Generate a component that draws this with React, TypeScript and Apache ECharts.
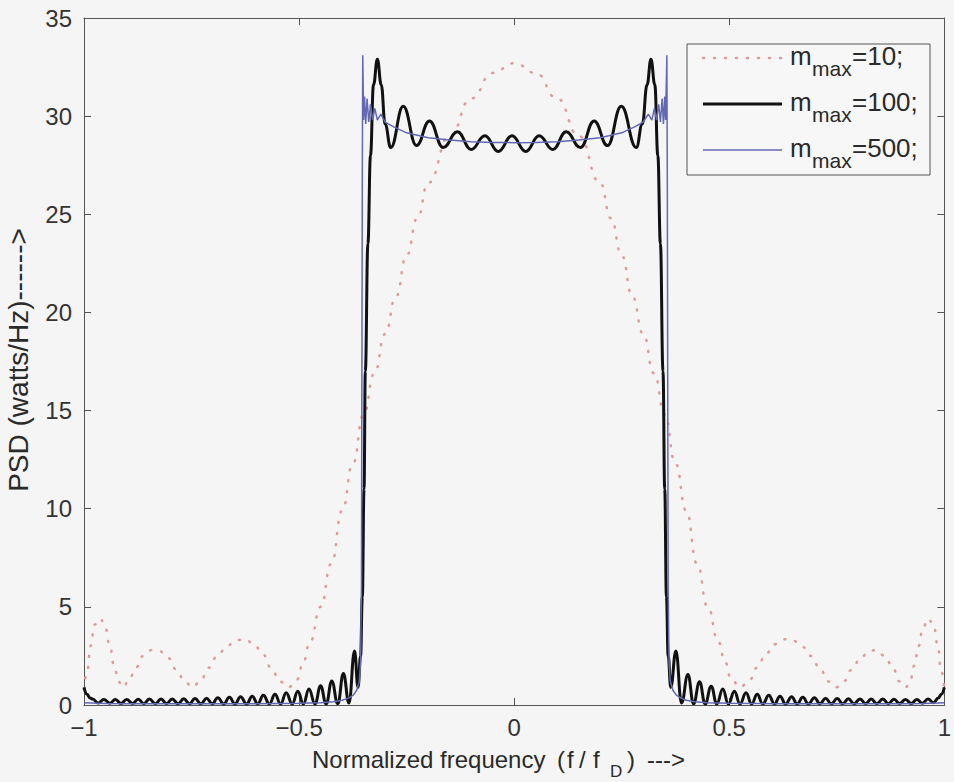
import React, { useEffect, useRef } from "react";
import * as echarts from "echarts";

const FONT = '"Liberation Sans", Arial, Helvetica, sans-serif';

// axes
const X_MIN = -1;
const X_MAX = 1;
const X_STEP = 0.5;
const Y_MIN = 0;
const Y_MAX = 35;
const Y_STEP = 5;

const xAxisTitle = ["Normalized frequency", "(", "f", "/", "f", "D", ")", "--->"];
const yAxisTitle = "PSD (watts/Hz)------>";
const legendValues = ["=10;", "=100;", "=500;"];
const seriesNames = ["m_max=10;", "m_max=100;", "m_max=500;"];

// m_max = 10 (dotted)
const m10: [number, number][] = [
  [-1.0, 0.8], [-0.992, 1.8], [-0.985, 3.0], [-0.975, 4.1], [-0.962, 4.4], [-0.95, 3.9],
  [-0.94, 3.0], [-0.93, 2.0], [-0.92, 1.2], [-0.91, 0.9], [-0.896, 1.2], [-0.88, 1.9],
  [-0.862, 2.5], [-0.842, 2.8], [-0.825, 2.75], [-0.805, 2.4], [-0.785, 1.8], [-0.766, 1.2],
  [-0.748, 0.9], [-0.73, 1.2], [-0.71, 1.9], [-0.69, 2.5], [-0.668, 3.0], [-0.647, 3.3],
  [-0.626, 3.35], [-0.605, 3.1], [-0.585, 2.6], [-0.565, 1.9], [-0.545, 1.2], [-0.525, 0.9],
  [-0.505, 1.3], [-0.49, 2.2], [-0.475, 3.2], [-0.45, 5.0], [-0.425, 7.2], [-0.4, 9.9],
  [-0.375, 12.3], [-0.35, 14.8], [-0.325, 16.9], [-0.3, 18.9], [-0.275, 20.8], [-0.25, 22.9],
  [-0.225, 24.8], [-0.2, 26.6], [-0.15, 29.0], [-0.1, 30.9], [-0.05, 32.2], [0.0, 32.7],
  [0.05, 32.2], [0.1, 30.9], [0.15, 29.0], [0.2, 26.6], [0.225, 24.8], [0.25, 22.9],
  [0.275, 20.8], [0.3, 18.9], [0.325, 16.9], [0.35, 14.8], [0.375, 12.3], [0.4, 9.9],
  [0.425, 7.2], [0.45, 5.0], [0.475, 3.2], [0.49, 2.2], [0.505, 1.3], [0.525, 0.9],
  [0.545, 1.2], [0.565, 1.9], [0.585, 2.6], [0.605, 3.1], [0.626, 3.35], [0.647, 3.3],
  [0.668, 3.0], [0.69, 2.5], [0.71, 1.9], [0.73, 1.2], [0.748, 0.9], [0.766, 1.2],
  [0.785, 1.8], [0.805, 2.4], [0.825, 2.75], [0.842, 2.8], [0.862, 2.5], [0.88, 1.9],
  [0.896, 1.2], [0.91, 0.9], [0.92, 1.2], [0.93, 2.0], [0.94, 3.0], [0.95, 3.9],
  [0.962, 4.4], [0.975, 4.1], [0.985, 3.0], [0.992, 1.8], [1.0, 0.8],
];

// m_max = 100 (thick black), peaks and troughs
const m100Left: [number, number][] = [
  [-1.0, 0.9], [-0.993, 0.55], [-0.986, 0.36], [-0.98, 0.3], [-0.967, 0.1], [-0.954, 0.28],
  [-0.94, 0.09], [-0.927, 0.28], [-0.914, 0.08], [-0.901, 0.28], [-0.887, 0.08], [-0.874, 0.29],
  [-0.861, 0.07], [-0.848, 0.3], [-0.834, 0.07], [-0.821, 0.3], [-0.808, 0.07], [-0.795, 0.31],
  [-0.781, 0.06], [-0.768, 0.32], [-0.755, 0.06], [-0.742, 0.33], [-0.728, 0.06], [-0.715, 0.35],
  [-0.702, 0.06], [-0.689, 0.37], [-0.675, 0.05], [-0.662, 0.39], [-0.649, 0.05], [-0.636, 0.42],
  [-0.622, 0.05], [-0.609, 0.45], [-0.596, 0.05], [-0.583, 0.5], [-0.569, 0.05], [-0.556, 0.55],
  [-0.543, 0.05], [-0.53, 0.62], [-0.516, 0.05], [-0.503, 0.7], [-0.49, 0.05], [-0.477, 0.82],
  [-0.463, 0.05], [-0.45, 0.98], [-0.437, 0.05], [-0.424, 1.22], [-0.41, 0.06], [-0.397, 1.6],
  [-0.384, 0.1], [-0.371, 2.75], [-0.363, 0.9],
];
const m100Band: [number, number][] = [
  [-0.357, 2.5], [-0.353, 5.5], [-0.349, 11], [-0.346, 17], [-0.34, 23.5], [-0.334, 28],
  [-0.327, 31.6], [-0.318, 32.9], [-0.309, 31.6], [-0.3, 29.6], [-0.287, 28.4], [-0.258, 30.5],
  [-0.227, 28.5], [-0.197, 29.75], [-0.165, 28.4], [-0.132, 29.2], [-0.1, 28.3], [-0.068, 29.0],
  [-0.037, 28.2], [-0.005, 29.0], [0.027, 28.2], [0.058, 29.0], [0.09, 28.3], [0.121, 29.2],
  [0.154, 28.4], [0.186, 29.75], [0.217, 28.5], [0.249, 30.5], [0.284, 28.4], [0.298, 29.6],
  [0.309, 31.6], [0.318, 32.9], [0.327, 31.6], [0.334, 28], [0.34, 23.5], [0.346, 17],
  [0.35, 11], [0.354, 5.5], [0.358, 2.5],
];
const m100Right: [number, number][] = [
  [0.364, 0.9], [0.376, 2.75], [0.389, 0.1], [0.404, 1.55], [0.417, 0.06], [0.431, 1.18],
  [0.444, 0.05], [0.458, 0.96], [0.471, 0.05], [0.485, 0.82], [0.498, 0.05], [0.512, 0.7],
  [0.525, 0.05], [0.539, 0.62], [0.552, 0.05], [0.565, 0.55], [0.578, 0.05], [0.592, 0.5],
  [0.605, 0.05], [0.618, 0.45], [0.631, 0.05], [0.645, 0.42], [0.658, 0.05], [0.671, 0.39],
  [0.684, 0.05], [0.698, 0.37], [0.711, 0.06], [0.724, 0.35], [0.737, 0.06], [0.751, 0.33],
  [0.764, 0.06], [0.777, 0.32], [0.79, 0.06], [0.804, 0.31], [0.817, 0.07], [0.83, 0.3],
  [0.843, 0.07], [0.857, 0.3], [0.87, 0.07], [0.883, 0.29], [0.896, 0.08], [0.91, 0.28],
  [0.923, 0.08], [0.936, 0.28], [0.949, 0.09], [0.962, 0.3], [0.975, 0.12], [0.986, 0.36],
  [0.993, 0.55], [1.0, 0.9],
];

// m_max = 500 (thin blue)
const m500Left: [number, number][] = [
  [-1.0, 0.12], [-0.95, 0.08], [-0.9, 0.07], [-0.8, 0.06], [-0.7, 0.06], [-0.6, 0.07],
  [-0.5, 0.09], [-0.45, 0.12], [-0.42, 0.17], [-0.4, 0.24], [-0.385, 0.35], [-0.374, 0.5],
  [-0.366, 0.75], [-0.36, 1.2], [-0.357, 2.2], [-0.355, 6], [-0.354, 16], [-0.353, 27],
];
const m500Band: [number, number][] = [
  [-0.352, 33.1], [-0.35, 29.8], [-0.348, 31.0], [-0.345, 29.6], [-0.342, 30.9], [-0.338, 29.7],
  [-0.334, 30.6], [-0.329, 29.8], [-0.324, 30.4], [-0.318, 29.8], [-0.31, 30.1], [-0.3, 29.7],
  [-0.28, 29.45], [-0.25, 29.15], [-0.2, 28.9], [-0.15, 28.78], [-0.1, 28.7], [-0.05, 28.66],
  [0.0, 28.65], [0.05, 28.66], [0.1, 28.7], [0.15, 28.78], [0.2, 28.9], [0.25, 29.15],
  [0.28, 29.45], [0.3, 29.7], [0.312, 30.1], [0.32, 29.8], [0.326, 30.4], [0.331, 29.8],
  [0.336, 30.6], [0.34, 29.7], [0.344, 30.9], [0.347, 29.6], [0.35, 31.0], [0.352, 29.8],
  [0.355, 33.1],
];
const m500Right: [number, number][] = [
  [0.356, 27], [0.357, 16], [0.358, 6], [0.36, 2.2], [0.363, 1.2], [0.369, 0.75],
  [0.377, 0.5], [0.388, 0.35], [0.4, 0.24], [0.42, 0.17], [0.45, 0.12], [0.5, 0.09],
  [0.6, 0.07], [0.7, 0.06], [0.8, 0.06], [0.9, 0.07], [0.95, 0.08], [1.0, 0.12],
];

const COLORS = { m10: "#e09a9a", m100: "#111111", m500: "#6268b4", axis: "#555555", text: "#2a2a2a" };

function txt(text: string, x: number, y: number, size: number, extra: any = {}) {
  return {
    type: "text",
    x,
    y,
    silent: true,
    z: 100,
    style: {
      text,
      fontSize: size,
      fontFamily: FONT,
      fill: COLORS.text,
      align: "left",
      verticalAlign: "middle",
      ...extra,
    },
  };
}

export default function App() {
  const ref = useRef<HTMLDivElement>(null);

  useEffect(() => {
    if (!ref.current) return;
    const chart = echarts.init(ref.current, undefined, { renderer: "svg" });

    const axisCommon = {
      type: "value",
      axisLine: { show: true, onZero: false, lineStyle: { color: COLORS.axis, width: 1 } },
      axisTick: { show: true, inside: true, length: 7, lineStyle: { color: COLORS.axis, width: 1 } },
      splitLine: { show: false },
    };

    const m100 = [...m100Left, ...m100Band, ...m100Right];
    const m500 = [...m500Left, ...m500Band, ...m500Right];

    const legendRows = [0, 1, 2];
    const rowBase = [65, 111, 157];
    const legendGraphics: any[] = [
      {
        type: "rect",
        z: 90,
        shape: { x: 687, y: 44, width: 243, height: 131 },
        style: { fill: "#f7f7f7", stroke: COLORS.axis, lineWidth: 1 },
      },
    ];
    legendRows.forEach((i) => {
      const ly = rowBase[i] - 7;
      const lineStyle =
        i === 0
          ? { stroke: COLORS.m10, lineWidth: 2.5, lineDash: [1, 10], lineCap: "round" }
          : i === 1
          ? { stroke: COLORS.m100, lineWidth: 3 }
          : { stroke: COLORS.m500, lineWidth: 1.5 };
      legendGraphics.push({
        type: "line",
        z: 95,
        shape: { x1: 703, y1: ly, x2: 782, y2: ly },
        style: lineStyle,
      });
      legendGraphics.push(txt("m", 790, rowBase[i] - 9, 26));
      legendGraphics.push(txt("max", 812, rowBase[i] + 11 - 7.4, 21));
      legendGraphics.push(txt(legendValues[i], 852, rowBase[i] - 9, 26));
    });

    const xNameY = 759;
    const titleGraphics: any[] = [
      txt(xAxisTitle[0], 312, xNameY, 24),
      txt(xAxisTitle[1], 557, xNameY, 24),
      txt(xAxisTitle[2], 567, xNameY, 24),
      txt(xAxisTitle[3], 579, xNameY, 24),
      txt(xAxisTitle[4], 593, xNameY, 24),
      txt(xAxisTitle[5], 610, 771, 17),
      txt(xAxisTitle[6], 627, xNameY, 24),
      txt(xAxisTitle[7], 647, xNameY, 24),
      {
        ...txt(yAxisTitle, 18, 360, 28, { align: "center" }),
        rotation: Math.PI / 2,
      },
    ];

    chart.setOption({
      animation: false,
      backgroundColor: "#f5f5f5",
      textStyle: { fontFamily: FONT },
      grid: { left: 84, right: 8, top: 18, bottom: 77, containLabel: false },
      xAxis: [
        {
          ...axisCommon,
          position: "bottom",
          min: X_MIN,
          max: X_MAX,
          interval: X_STEP,
          axisLabel: {
            show: true,
            fontSize: 24,
            color: "#333",
            fontFamily: FONT,
            margin: 10,
            formatter: (v: number) => (v < 0 ? "\u2212" + String(-v) : String(v)),
          },
        },
        {
          ...axisCommon,
          position: "top",
          min: X_MIN,
          max: X_MAX,
          interval: X_STEP,
          axisLabel: { show: false },
        },
      ],
      yAxis: [
        {
          ...axisCommon,
          position: "left",
          min: Y_MIN,
          max: Y_MAX,
          interval: Y_STEP,
          axisLabel: { show: true, fontSize: 24, color: "#333", fontFamily: FONT, margin: 12 },
        },
        {
          ...axisCommon,
          position: "right",
          min: Y_MIN,
          max: Y_MAX,
          interval: Y_STEP,
          axisLabel: { show: false },
        },
      ],
      series: [
        {
          name: seriesNames[0],
          type: "line",
          data: m10,
          smooth: 0.5,
          smoothMonotone: "x",
          symbol: "none",
          showSymbol: false,
          lineStyle: { color: COLORS.m10, width: 2.5, type: [1, 10], cap: "round" },
          z: 2,
        },
        {
          name: seriesNames[1],
          type: "line",
          data: m100,
          smooth: 0.45,
          smoothMonotone: "x",
          symbol: "none",
          showSymbol: false,
          lineStyle: { color: COLORS.m100, width: 3 },
          z: 3,
        },
        {
          name: seriesNames[2],
          type: "line",
          data: m500,
          smooth: false,
          symbol: "none",
          showSymbol: false,
          lineStyle: { color: COLORS.m500, width: 1.5 },
          z: 4,
        },
      ],
      graphic: [...legendGraphics, ...titleGraphics],
    });

    return () => chart.dispose();
  }, []);

  return (
    <div
      ref={ref}
      style={{ position: "absolute", left: 0, top: 0, width: 954, height: 782, background: "#f5f5f5" }}
    />
  );
}
